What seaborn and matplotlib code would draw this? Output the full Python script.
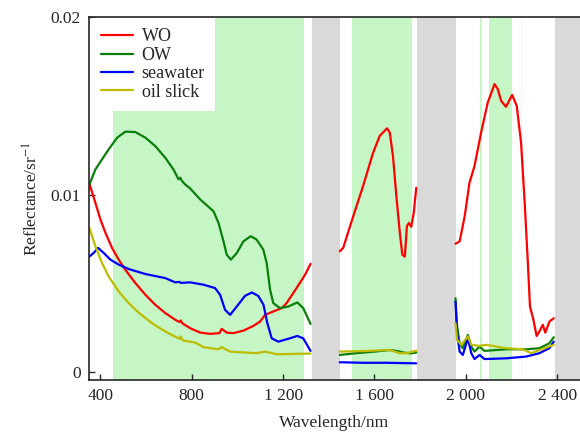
import numpy as np
import pandas as pd
import matplotlib
matplotlib.use("Agg")
import matplotlib.pyplot as plt
import seaborn as sns
from matplotlib.lines import Line2D

# spectra (three segments, gaps at the water absorption bands)
wo_nm = [352, 378, 400, 422, 451, 480, 509, 553, 597, 640, 684, 728, 745, 752, 758, 793, 837, 881, 921, 931, 953, 982, 1026, 1070, 1099, 1121, 1157, 1194, 1215, 1259, 1296, 1320,
         1448, 1463, 1507, 1550, 1594, 1623, 1655, 1667, 1681, 1696, 1711, 1722, 1733, 1742, 1751, 1761, 1772, 1783,
         1955, 1973, 1995, 2016, 2038, 2067, 2096, 2126, 2140, 2155, 2176, 2203, 2223, 2242, 2257, 2271, 2281, 2296, 2310, 2322, 2337, 2348, 2366, 2385]
wo_val = [0.0106, 0.00953, 0.00859, 0.00784, 0.00699, 0.00633, 0.00576, 0.00501, 0.00435, 0.00379, 0.00332, 0.00294, 0.00282, 0.0029, 0.00275, 0.00247, 0.00222, 0.00215, 0.00219, 0.00243, 0.00222, 0.00219, 0.00233, 0.0026, 0.00284, 0.00322, 0.00341, 0.0036, 0.00388, 0.00473, 0.00548, 0.00609,
          0.0068, 0.00699, 0.00877, 0.01047, 0.01235, 0.0133, 0.01373, 0.01349, 0.01217, 0.0099, 0.00784, 0.00661, 0.0065, 0.00821, 0.0084, 0.00818, 0.00897, 0.01038,
          0.00723, 0.00736, 0.00877, 0.01066, 0.0116, 0.01349, 0.01518, 0.01622, 0.01594, 0.01527, 0.01494, 0.01561, 0.01499, 0.01292, 0.00972, 0.00633, 0.00369, 0.00294, 0.00203, 0.00228, 0.00266, 0.00222, 0.00284, 0.00303]

ow_nm = [352, 378, 407, 436, 473, 509, 553, 597, 640, 684, 720, 742, 750, 756, 771, 793, 837, 895, 917, 939, 953, 971, 997, 1026, 1058, 1084, 1113, 1128, 1143, 1157, 1186, 1223, 1262, 1288, 1320,
         1448, 1520, 1600, 1667, 1700, 1730, 1760, 1783,
         1955, 1960, 1973, 1987, 2009, 2024, 2038, 2060, 2082, 2176, 2264, 2322, 2366, 2385]
ow_val = [0.01057, 0.01141, 0.01198, 0.01254, 0.0132, 0.01354, 0.01352, 0.0132, 0.01273, 0.01207, 0.01141, 0.01085, 0.01095, 0.01078, 0.01057, 0.01034, 0.00972, 0.00906, 0.0084, 0.00736, 0.00661, 0.00633, 0.0067, 0.00736, 0.00765, 0.00746, 0.0069, 0.00614, 0.00463, 0.00388, 0.0036, 0.00369, 0.00392, 0.0036, 0.00271,
          0.00096, 0.00106, 0.00115, 0.00124, 0.00118, 0.00109, 0.00105, 0.0011,
          0.00416, 0.00275, 0.00162, 0.00134, 0.00209, 0.00143, 0.00115, 0.00143, 0.00119, 0.00128, 0.00128, 0.00134, 0.00162, 0.00196]

sw_nm = [352, 370, 390, 415, 444, 480, 524, 597, 684, 728, 745, 752, 793, 851, 902, 924, 946, 968, 997, 1033, 1063, 1091, 1114, 1131, 1150, 1179, 1230, 1262, 1288, 1320,
         1448, 1550, 1650, 1783,
         1955, 1962, 1973, 1987, 2009, 2024, 2038, 2060, 2082, 2176, 2264, 2322, 2366, 2385]
sw_val = [0.00651, 0.0067, 0.00699, 0.0067, 0.00633, 0.00605, 0.0058, 0.00552, 0.00529, 0.00505, 0.00508, 0.00502, 0.00505, 0.00492, 0.00473, 0.00435, 0.0035, 0.00322, 0.00369, 0.00429, 0.00448, 0.00429, 0.00379, 0.00275, 0.0019, 0.00171, 0.0019, 0.00203, 0.0019, 0.00119,
          0.00055, 0.00052, 0.00052, 0.00049,
          0.00397, 0.00218, 0.00115, 0.00096, 0.0019, 0.00106, 0.00073, 0.00096, 0.00073, 0.00077, 0.00087, 0.00106, 0.00134, 0.00171]

oil_nm = [352, 378, 407, 436, 480, 524, 567, 626, 684, 742, 748, 752, 760, 815, 851, 917, 931, 968, 1084, 1121, 1172, 1320,
          1448, 1550, 1667, 1711, 1740, 1783,
          1955, 1962, 1980, 2009, 2024, 2060, 2090, 2176, 2249, 2286, 2322, 2385]
oil_val = [0.00812, 0.00708, 0.00614, 0.00538, 0.00454, 0.00388, 0.00335, 0.00275, 0.00228, 0.0019, 0.00186, 0.002, 0.00178, 0.00166, 0.0014, 0.00128, 0.0014, 0.00115, 0.00106, 0.00115, 0.001, 0.00104,
           0.00115, 0.00118, 0.00124, 0.00106, 0.00106, 0.0012,
           0.00275, 0.00181, 0.00153, 0.002, 0.00153, 0.00147, 0.00153, 0.00134, 0.00128, 0.00106, 0.00124, 0.00153]

green_bands = [(457, 1291), (1502, 1763), (2060, 2072), (2102, 2201)]
gray_bands = [(1325, 1448), (1788, 1955), (2389, 2500)]

names = ["WO", "OW", "seawater", "oil slick"]
colores = {"WO": "#ff0000", "OW": "#0a800a", "seawater": "#0000ff", "oil slick": "#bdbd00"}

frames = []
for nome, nm, val in zip(names, [wo_nm, ow_nm, sw_nm, oil_nm], [wo_val, ow_val, sw_val, oil_val]):
    d = pd.DataFrame({"nm": nm, "val": val})
    d["serie"] = nome
    d["seg"] = np.digitize(d["nm"], [1380, 1870])
    frames.append(d)
dati = pd.concat(frames, ignore_index=True)

sns.set_style("ticks")
plt.rcParams["font.family"] = ["Liberation Serif", "DejaVu Serif"]
plt.rcParams["mathtext.fontset"] = "stix"

fig = plt.figure(figsize=(5.8, 4.45), dpi=100)
ax = fig.add_axes([89 / 580, 1 - 380 / 445, 1 - 89 / 580, (380 - 17) / 445])

for a, b in green_bands:
    ax.axvspan(a, b, color="#c6f5c6", lw=0, zorder=0)
ax.axvspan(2240, 2245, color="#c6f5c6", alpha=0.4, lw=0, zorder=0)
for a, b in gray_bands:
    ax.axvspan(a, b, color="#d9d9d9", lw=0, zorder=0)

sns.lineplot(data=dati, x="nm", y="val", hue="serie", units="seg", estimator=None,
             palette=colores, hue_order=names, lw=1.6, sort=False, legend=False, ax=ax)

ax.set_xlim(350, 2500)
ax.set_ylim(-0.00045, 0.02)
ax.set_xticks([400, 800, 1200, 1600, 2000, 2400])
ax.set_xticklabels(["400", "800", "1 200", "1 600", "2 000", "2 400"])
ax.set_yticks([0, 0.01, 0.02])
ax.set_yticklabels(["0", "0.01", "0.02"])
ax.tick_params(direction="in", labelsize=12.5, length=4, width=1, pad=6)
ax.spines["right"].set_visible(False)
for s in ["left", "bottom", "top"]:
    ax.spines[s].set_linewidth(1.2)
ax.set_xlabel("Wavelength/nm", fontsize=12.5, labelpad=8)
ax.set_ylabel(r"Reflectance/sr$^{-1}$", fontsize=12.5, labelpad=6)

maniglie = [Line2D([0], [0], color=colores[n], lw=1.6) for n in names]
leg = ax.legend(maniglie, names, loc="upper left", bbox_to_anchor=(0.004, 0.996), fontsize=13,
                frameon=True, fancybox=False, framealpha=1, facecolor="white", edgecolor="none",
                borderaxespad=0, handlelength=1.8, labelspacing=0.08, borderpad=0.55, handletextpad=0.45)

fig.savefig("out.png", dpi=100)
